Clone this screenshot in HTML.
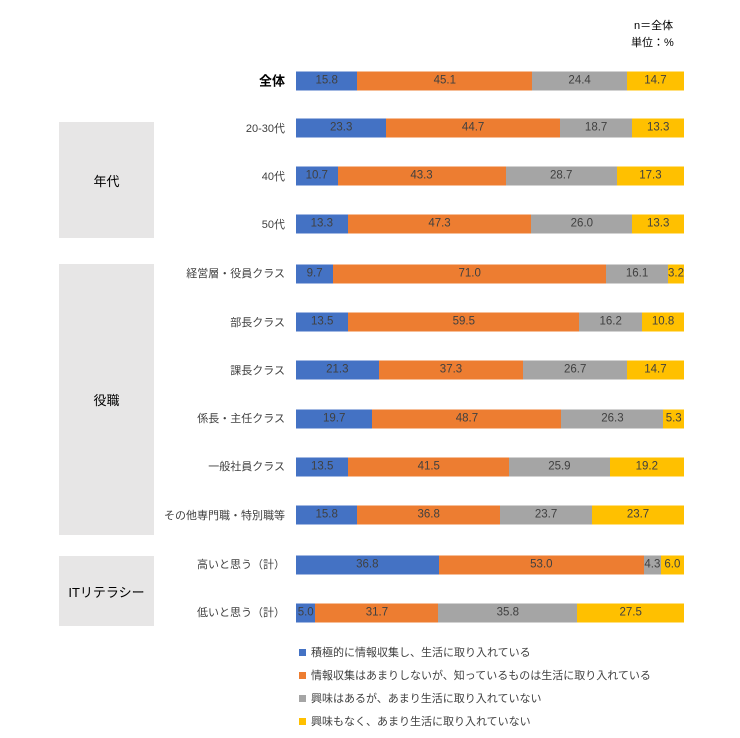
<!DOCTYPE html>
<html><head><meta charset="utf-8"><style>
body{margin:0;width:740px;height:738px;background:#fff;font-family:"Liberation Sans","Noto Sans CJK JP",sans-serif;color:#404040;position:relative;overflow:hidden}
.a{position:absolute}
.box{position:absolute;left:59px;width:95px;background:#e7e6e6;display:flex;align-items:center;justify-content:center;font-size:13px;color:#000}
.lab{position:absolute;right:455px;font-size:11px;white-space:nowrap;transform:translateY(-50%)}
.bar{position:absolute;left:296px;width:388px;height:19px;display:flex;transform:translateY(-50%)}
.bar div{height:19px;line-height:19px;text-align:center;font-size:11.5px;color:#404040;overflow:visible;white-space:nowrap}
.b{background:#4472c4}.o{background:#ed7d31}.g{background:#a5a5a5}.y{background:#ffc000}
.leg{position:absolute;left:299px;font-size:11px;display:flex;align-items:center}
.leg i{display:inline-block;width:7px;height:7px;margin-right:5px}
</style></head><body>
<div class="a" style="left:634px;top:17px;font-size:11px;color:#000">n＝全体</div>
<div class="a" style="left:631px;top:34px;font-size:11px;color:#000">単位：%</div>
<div class="box" style="top:122px;height:116px">年代</div>
<div class="box" style="top:264px;height:271px">役職</div>
<div class="box" style="top:556px;height:70px">ITリテラシー</div>

<div class="lab" style="top:80px;font-weight:bold;font-size:13px;color:#000">全体</div>
<div class="bar" style="top:81px"><div class="b" style="flex:15.8">15.8</div><div class="o" style="flex:45.1">45.1</div><div class="g" style="flex:24.4">24.4</div><div class="y" style="flex:14.7">14.7</div></div>
<div class="lab" style="top:128px">20-30代</div>
<div class="bar" style="top:128px"><div class="b" style="flex:23.3">23.3</div><div class="o" style="flex:44.7">44.7</div><div class="g" style="flex:18.7">18.7</div><div class="y" style="flex:13.3">13.3</div></div>
<div class="lab" style="top:176px">40代</div>
<div class="bar" style="top:176px"><div class="b" style="flex:10.7">10.7</div><div class="o" style="flex:43.3">43.3</div><div class="g" style="flex:28.7">28.7</div><div class="y" style="flex:17.3">17.3</div></div>
<div class="lab" style="top:224px">50代</div>
<div class="bar" style="top:224px"><div class="b" style="flex:13.3">13.3</div><div class="o" style="flex:47.3">47.3</div><div class="g" style="flex:26.0">26.0</div><div class="y" style="flex:13.3">13.3</div></div>
<div class="lab" style="top:273px">経営層・役員クラス</div>
<div class="bar" style="top:274px"><div class="b" style="flex:9.7">9.7</div><div class="o" style="flex:71.0">71.0</div><div class="g" style="flex:16.1">16.1</div><div class="y" style="flex:3.2">3.2</div></div>
<div class="lab" style="top:322px">部長クラス</div>
<div class="bar" style="top:322px"><div class="b" style="flex:13.5">13.5</div><div class="o" style="flex:59.5">59.5</div><div class="g" style="flex:16.2">16.2</div><div class="y" style="flex:10.8">10.8</div></div>
<div class="lab" style="top:370px">課長クラス</div>
<div class="bar" style="top:370px"><div class="b" style="flex:21.3">21.3</div><div class="o" style="flex:37.3">37.3</div><div class="g" style="flex:26.7">26.7</div><div class="y" style="flex:14.7">14.7</div></div>
<div class="lab" style="top:418px">係長・主任クラス</div>
<div class="bar" style="top:419px"><div class="b" style="flex:19.7">19.7</div><div class="o" style="flex:48.7">48.7</div><div class="g" style="flex:26.3">26.3</div><div class="y" style="flex:5.3">5.3</div></div>
<div class="lab" style="top:466px">一般社員クラス</div>
<div class="bar" style="top:467px"><div class="b" style="flex:13.5">13.5</div><div class="o" style="flex:41.5">41.5</div><div class="g" style="flex:25.9">25.9</div><div class="y" style="flex:19.2">19.2</div></div>
<div class="lab" style="top:515px">その他専門職・特別職等</div>
<div class="bar" style="top:515px"><div class="b" style="flex:15.8">15.8</div><div class="o" style="flex:36.8">36.8</div><div class="g" style="flex:23.7">23.7</div><div class="y" style="flex:23.7">23.7</div></div>
<div class="lab" style="top:564px">高いと思う（計）</div>
<div class="bar" style="top:565px"><div class="b" style="flex:36.8">36.8</div><div class="o" style="flex:53.0">53.0</div><div class="g" style="flex:4.3">4.3</div><div class="y" style="flex:6.0">6.0</div></div>
<div class="lab" style="top:612px">低いと思う（計）</div>
<div class="bar" style="top:613px"><div class="b" style="flex:5.0">5.0</div><div class="o" style="flex:31.7">31.7</div><div class="g" style="flex:35.8">35.8</div><div class="y" style="flex:27.5">27.5</div></div>

<div class="leg" style="top:644px"><i class="b"></i>積極的に情報収集し、生活に取り入れている</div>
<div class="leg" style="top:667px"><i class="o"></i>情報収集はあまりしないが、知っているものは生活に取り入れている</div>
<div class="leg" style="top:690px"><i class="g"></i>興味はあるが、あまり生活に取り入れていない</div>
<div class="leg" style="top:713px"><i class="y"></i>興味もなく、あまり生活に取り入れていない</div>
</body></html>
